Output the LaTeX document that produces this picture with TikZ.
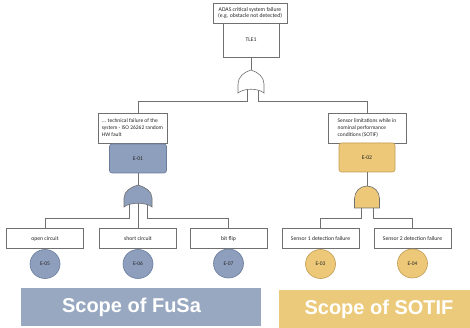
\documentclass[tikz,border=0pt]{standalone}
\usepackage{fontspec}
\usetikzlibrary{shapes.geometric}
\setmainfont{Carlito}
\newfontfamily\scopefont{Liberation Sans}
\definecolor{fblue}{HTML}{8E9FBD}
\definecolor{fbluedk}{HTML}{6A7C9C}
\definecolor{fgold}{HTML}{ECC878}
\definecolor{fgolddk}{HTML}{BF9C55}
\definecolor{scblue}{HTML}{98A8C0}
\definecolor{scgold}{HTML}{ECCA7B}
\definecolor{ln}{HTML}{707070}
\begin{document}
\begin{tikzpicture}[x=1pt,y=-1pt,
  txtbox/.style={draw=ln, line width=0.6pt, fill=white, font=\fontsize{5.7}{6.6}\selectfont, inner sep=0pt, align=center, text=black!85},
  descbox/.style={draw=ln, line width=0.6pt, fill=white, font=\fontsize{5.5}{7}\selectfont, inner sep=0pt, align=left, text=black!85},
  ebox/.style={line width=0.6pt, rounded corners=2.5pt, font=\fontsize{5.7}{6}\selectfont, inner sep=0pt, minimum height=29pt, text=black!85},
  evt/.style={ellipse, line width=0.6pt, font=\fontsize{5.5}{6}\selectfont, inner sep=0pt, minimum width=30pt, minimum height=29pt, text=black!85},
  leaf/.style={txtbox, minimum width=77pt, minimum height=19.5pt},
  conn/.style={draw=ln, line width=0.6pt},
  gatestyle/.style={draw=ln, line width=0.6pt},
  scopebox/.style={inner sep=0pt, text=white, font=\scopefont\bfseries\fontsize{20}{22}\selectfont}
]
\useasboundingbox (0,0) rectangle (470,328);

% ---- nodes ----
\node[txtbox, minimum width=74pt, minimum height=20pt] (top) at (250,13) {ADAS critical system failure\\(e.g. obstacle not detected)};
\node[txtbox, minimum width=56pt, minimum height=34pt] (tle) at (251,40) {TLE1};

\node[descbox, minimum width=69pt, minimum height=30pt] (fdesc) at (132.5,128) {... technical failure of the\\system - ISO 26262 random\\HW fault};
\node[ebox, draw=fbluedk, fill=fblue, minimum width=57pt] (e01) at (138,158.5) {E-01};

\node[descbox, minimum width=78pt, minimum height=30pt] (sdesc) at (367,128) {Sensor limitations while in\\nominal performance\\conditions (SOTIF)};
\node[ebox, draw=fgolddk, fill=fgold, minimum width=56pt] (e02) at (367,157.5) {E-02};

\node[leaf] (oc) at (45,238.5) {open circuit};
\node[leaf] (sc) at (138,238.5) {short circuit};
\node[leaf] (bf) at (228.5,238.5) {bit flip};
\node[leaf] (s1) at (320.5,238.5) {Sensor 1 detection failure};
\node[leaf] (s2) at (412.5,238.5) {Sensor 2 detection failure};

\node[evt, draw=fbluedk, fill=fblue] (e05) at (45,264) {E-05};
\node[evt, draw=fbluedk, fill=fblue] (e06) at (138,264) {E-06};
\node[evt, draw=fbluedk, fill=fblue] (e07) at (228.5,263.5) {E-07};
\node[evt, draw=fgolddk, fill=fgold] (e03) at (320.5,264) {E-03};
\node[evt, draw=fgolddk, fill=fgold] (e04) at (412.5,263.5) {E-04};

\node[scopebox, fill=scblue, minimum width=240pt, minimum height=38pt] (fusa) at (141,307) {Scope of FuSa\hspace*{19pt}};
\node[scopebox, fill=scgold, minimum width=191pt, minimum height=38pt] (sotif) at (374.5,309) {\hspace*{9pt}Scope of SOTIF};

% ---- gate ports ----
\coordinate (g1out) at (251,70);
\coordinate (g1a) at (247,88);
\coordinate (g1b) at (258,88);
\coordinate (bus1) at (0,101);

\coordinate (g2out) at (138,185);
\coordinate (g2a) at (129,203);
\coordinate (g2c) at (138,203);
\coordinate (g2b) at (147,203);
\coordinate (bus2) at (0,218);

\coordinate (g3out) at (367,186);
\coordinate (g3a) at (361,207);
\coordinate (g3b) at (373,207);

% ---- connectors ----
\draw[conn] (tle.south) -- (g1out);
\draw[conn] (g1a) -- (g1a |- bus1) -| (e01.north |- fdesc.north);
\draw[conn] (g1b) -- (g1b |- bus1) -| (sdesc.north);

\draw[conn] (e01.south) -- (g2out);
\draw[conn] (g2a) -- (g2a |- bus2) -| (oc.north);
\draw[conn] (g2c) -- (sc.north);
\draw[conn] (g2b) -- (g2b |- bus2) -| (bf.north);

\draw[conn] (e02.south) -- (g3out);
\draw[conn] (g3a) -- (g3a |- bus2) -| (s1.north);
\draw[conn] (g3b) -- (g3b |- bus2) -| (s2.north);

% ---- gates ----
% top OR gate
\draw[gatestyle, fill=white] (238,93) -- (238,84) .. controls (238,77) and (244,72) .. (g1out)
  .. controls (258,72) and (264,77) .. (264,84) -- (264,93)
  .. controls (258,88) and (244,88) .. (238,93) -- cycle;
% FuSa OR gate
\draw[gatestyle, fill=fblue] (124,207) -- (124,198) .. controls (124,191) and (131,187) .. (g2out)
  .. controls (145,187) and (152,191) .. (152,198) -- (152,207)
  .. controls (146,202) and (130,202) .. (124,207) -- cycle;
% SOTIF AND gate
\draw[gatestyle, fill=fgold] (354.5,208) -- (354.5,198.5) .. controls (354.5,191.6) and (360.1,186) .. (g3out)
  .. controls (373.9,186) and (379.5,191.6) .. (379.5,198.5) -- (379.5,208) -- cycle;
\end{tikzpicture}
\end{document}
